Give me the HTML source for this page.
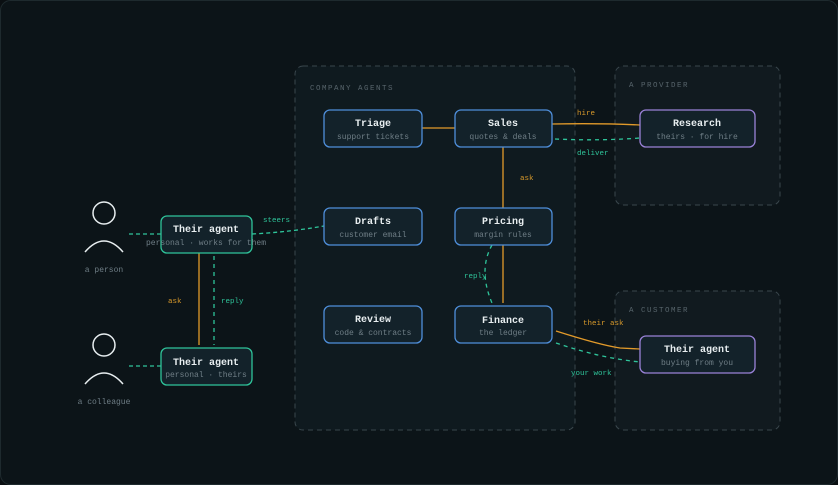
<!DOCTYPE html>
<html><head><meta charset="utf-8"><style>
html,body{margin:0;padding:0;background:#0a0f12;}
svg{display:block;font-family:"Liberation Mono",monospace;}
.t{font-weight:bold;font-size:10px;fill:#e8eef0;text-anchor:middle}
.s{font-size:8px;fill:#6f7e86;text-anchor:middle}
.g{font-size:7.5px;fill:#58656c;letter-spacing:1.5px}
.lo{font-size:7.5px;fill:#d99a2b}
.lg{font-size:7.5px;fill:#2fc49a}
</style></head><body>
<svg width="838" height="485" viewBox="0 0 838 485">
<rect x="0.5" y="0.5" width="837" height="484" rx="10" fill="#0c1418" stroke="#1e2a2e"/>
<rect x="295" y="66" width="280" height="364" rx="8" fill="#0f1a1f" stroke="#3a474d" stroke-dasharray="5 4"/>
<rect x="615" y="66" width="165" height="139" rx="8" fill="#111a1f" stroke="#3a474d" stroke-dasharray="5 4"/>
<rect x="615" y="291" width="165" height="139" rx="8" fill="#111a1f" stroke="#3a474d" stroke-dasharray="5 4"/>
<text class="g" x="310" y="90">COMPANY AGENTS</text>
<text class="g" x="629" y="87">A PROVIDER</text>
<text class="g" x="629" y="312">A CUSTOMER</text>
<!-- connectors -->
<g fill="none" stroke-width="1.3">
<line x1="422" y1="128" x2="455" y2="128" stroke="#e29a2a"/>
<line x1="503" y1="147" x2="503" y2="208" stroke="#e29a2a"/>
<line x1="503" y1="245" x2="503" y2="303" stroke="#e29a2a"/>
<path d="M492 245 Q478 270 492 303" stroke="#2fc49a" stroke-dasharray="4 4"/>
<path d="M552 124 Q600 123 640 125" stroke="#e29a2a"/>
<path d="M555 139 Q600 141 640 138" stroke="#2fc49a" stroke-dasharray="4 4"/>
<path d="M556 331 Q600 345 620 348 L640 349" stroke="#e29a2a"/>
<path d="M556 343 Q600 358 640 362" stroke="#2fc49a" stroke-dasharray="4 4"/>
<line x1="199" y1="253" x2="199" y2="345" stroke="#e29a2a"/>
<line x1="214" y1="256" x2="214" y2="345" stroke="#2fc49a" stroke-dasharray="4 4"/>
<line x1="129" y1="234" x2="161" y2="234" stroke="#2fc49a" stroke-dasharray="4 3"/>
<line x1="129" y1="366" x2="161" y2="366" stroke="#2fc49a" stroke-dasharray="4 3"/>
<path d="M252 234 Q290 232 324 226" stroke="#2fc49a" stroke-dasharray="4 3"/>
</g>
<text class="lo" x="577" y="115">hire</text>
<text class="lg" x="577" y="155">deliver</text>
<text class="lo" x="520" y="180">ask</text>
<text class="lg" x="464" y="278">reply</text>
<text class="lo" x="583" y="325">their ask</text>
<text class="lg" x="571" y="375">your work</text>
<text class="lo" x="168" y="303">ask</text>
<text class="lg" x="221" y="303">reply</text>
<text class="lg" x="263" y="222">steers</text>
<!-- people -->
<g fill="none" stroke="#e8eef0" stroke-width="1.5">
<circle cx="104" cy="213" r="11"/>
<path d="M85 252 Q104 230 123 252"/>
<circle cx="104" cy="345" r="11"/>
<path d="M85 384 Q104 362 123 384"/>
</g>
<text class="s" x="104" y="272">a person</text>
<text class="s" x="104" y="404">a colleague</text>
<!-- nodes -->
<g stroke-width="1.3" fill="#13222a">
<rect x="324" y="110" width="98" height="37" rx="6" stroke="#4f8fdb"/>
<rect x="455" y="110" width="97" height="37" rx="6" stroke="#4f8fdb"/>
<rect x="324" y="208" width="98" height="37" rx="6" stroke="#4f8fdb"/>
<rect x="455" y="208" width="97" height="37" rx="6" stroke="#4f8fdb"/>
<rect x="324" y="306" width="98" height="37" rx="6" stroke="#4f8fdb"/>
<rect x="455" y="306" width="97" height="37" rx="6" stroke="#4f8fdb"/>
<rect x="640" y="110" width="115" height="37" rx="6" stroke="#9a82d8"/>
<rect x="640" y="336" width="115" height="37" rx="6" stroke="#9a82d8"/>
<rect x="161" y="216" width="91" height="37" rx="6" stroke="#2fc49a"/>
<rect x="161" y="348" width="91" height="37" rx="6" stroke="#2fc49a"/>
</g>
<text class="t" x="373" y="126">Triage</text><text class="s" x="373" y="139">support tickets</text>
<text class="t" x="503" y="126">Sales</text><text class="s" x="503" y="139">quotes &amp; deals</text>
<text class="t" x="373" y="224">Drafts</text><text class="s" x="373" y="237">customer email</text>
<text class="t" x="503" y="224">Pricing</text><text class="s" x="503" y="237">margin rules</text>
<text class="t" x="373" y="322">Review</text><text class="s" x="373" y="335">code &amp; contracts</text>
<text class="t" x="503" y="323">Finance</text><text class="s" x="503" y="335">the ledger</text>
<text class="t" x="697" y="126">Research</text><text class="s" x="697" y="139">theirs · for hire</text>
<text class="t" x="697" y="352">Their agent</text><text class="s" x="697" y="365">buying from you</text>
<text class="t" x="206" y="232">Their agent</text><text class="s" x="206" y="245">personal · works for them</text>
<text class="t" x="206" y="365">Their agent</text><text class="s" x="206" y="377">personal · theirs</text>
</svg>
</body></html>
